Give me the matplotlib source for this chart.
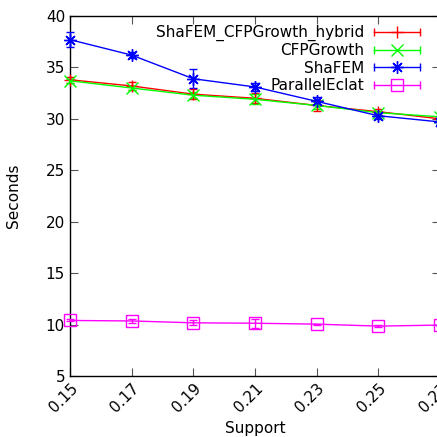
import matplotlib
matplotlib.use("Agg")
import matplotlib.pyplot as plt
from matplotlib.lines import Line2D
from matplotlib.legend_handler import HandlerLine2D, HandlerTuple

support = [0.15, 0.17, 0.19, 0.21, 0.23, 0.25, 0.27]
support_labels = ["0.15", "0.17", "0.19", "0.21", "0.23", "0.25", "0.27"]

hybrid = [33.8, 33.2, 32.4, 32.0, 31.3, 30.7, 30.0]
hybrid_err = [0.3, 0.4, 0.5, 0.5, 0.5, 0.3, 0.2]

cfpgrowth = [33.7, 33.0, 32.3, 31.9, 31.3, 30.6, 30.2]
cfpgrowth_err = [0.2, 0.2, 0.3, 0.5, 0.3, 0.2, 0.1]

shafem = [37.7, 36.2, 33.9, 33.1, 31.7, 30.3, 29.7]
shafem_err = [0.7, 0.3, 0.9, 0.4, 0.4, 0.3, 0.2]

eclat = [10.4, 10.35, 10.17, 10.13, 10.04, 9.85, 9.95]
eclat_err = [0.1, 0.2, 0.25, 0.45, 0.05, 0.1, 0.05]

names = ["ShaFEM_CFPGrowth_hybrid", "CFPGrowth", "ShaFEM", "ParallelEclat"]
colors = ["#ff0000", "#00ff00", "#0000ff", "#ff00ff"]
markers = ["+", "x", (8, 2, 0), "s"]
sizes = [9, 9, 9, 8]

plt.rcParams["font.family"] = "DejaVu Sans"
plt.rcParams["font.size"] = 10

fig = plt.figure(figsize=(4.37, 4.37), dpi=100)
ax = fig.add_axes([0.160, 0.1396, 0.847, 0.8238])

handles = []
handler_map = {}
for ys, es, c, m, ms in zip([hybrid, cfpgrowth, shafem, eclat],
                            [hybrid_err, cfpgrowth_err, shafem_err, eclat_err],
                            colors, markers, sizes):
    ax.errorbar(support, ys, yerr=es, color=c, marker=m, markersize=ms,
                markerfacecolor="none", markeredgewidth=1, linewidth=1,
                elinewidth=1, capsize=3, capthick=1, clip_on=False, zorder=3)
    # gnuplot-style key sample: line with caps at both ends and marker in the middle
    caps = Line2D([], [], color=c, marker="|", markersize=6, linewidth=1)
    mid = Line2D([], [], color=c, marker=m, markersize=ms,
                 markerfacecolor="none", linestyle="none")
    handler_map[caps] = HandlerLine2D(numpoints=2, marker_pad=0)
    handler_map[mid] = HandlerLine2D(numpoints=1)
    handles.append((caps, mid))

handler_map[tuple] = HandlerTuple(ndivide=1)
ax.legend(handles, names, handler_map=handler_map, loc="upper right",
          bbox_to_anchor=(0.946, 0.975), frameon=False, markerfirst=False,
          handlelength=3.0, handletextpad=0.65, labelspacing=0.15,
          borderpad=0, borderaxespad=0, fontsize=11)

ax.set_xlim(0.15, 0.27)
ax.set_ylim(5, 40)
ax.set_xticks(support)
ax.set_xticklabels(support_labels, rotation=45, ha="right", va="top",
                   rotation_mode="anchor", fontsize=11)
ax.set_yticks(range(5, 41, 5))
ax.tick_params(axis="y", labelsize=11)
ax.tick_params(direction="in", length=6, color="#555555", top=True, right=True)
for s in ax.spines.values():
    s.set_linewidth(1)

ax.set_xlabel("Support", fontsize=11, labelpad=4)
ax.set_ylabel("Seconds", fontsize=11, labelpad=18)

fig.savefig("out.png", dpi=100)
